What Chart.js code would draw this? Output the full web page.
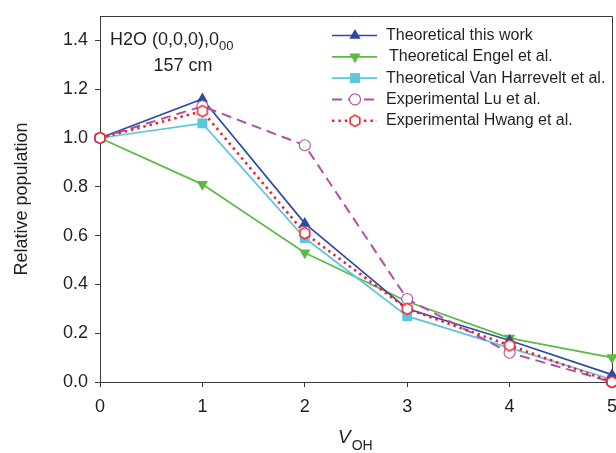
<!DOCTYPE html>
<html>
<head>
<meta charset="utf-8">
<script src="https://cdn.jsdelivr.net/npm/chart.js@4.4.0/dist/chart.umd.min.js"></script>
<style>
  html, body { margin: 0; padding: 0; background: #ffffff; }
  canvas { display: block; }
</style>
</head>
<body>
<canvas id="chart" width="616" height="453"></canvas>
<script>
// Vibrational quantum number of the OH stretch
const vibLevels = [0, 1, 2, 3, 4, 5];

// Relative populations for each source
const theoreticalThisWork   = [1.00, 1.16, 0.65, 0.30, 0.17, 0.03];
const theoreticalEngel      = [1.00, 0.81, 0.53, 0.33, 0.18, 0.10];
const theoreticalVanHarrev  = [1.00, 1.06, 0.59, 0.27, 0.14, 0.01];
const experimentalLu        = [1.00, 1.13, 0.97, 0.34, 0.12, 0.00];
const experimentalHwang     = [1.00, 1.11, 0.61, 0.30, 0.15, 0.00];

const seriesLabels = [
  'Theoretical this work',
  'Theoretical Engel et al.',
  'Theoretical Van Harrevelt et al.',
  'Experimental Lu et al.',
  'Experimental Hwang et al.'
];

// Axis tick values
const xTickValues = [0, 1, 2, 3, 4, 5];
const yTickValues = [0.0, 0.2, 0.4, 0.6, 0.8, 1.0, 1.2, 1.4];

const FONT = '"Liberation Sans", Arial, Helvetica, sans-serif';
const TEXT = '#231f20';
const AXIS = '#3a3a3a';

// Open hexagon marker for the Hwang et al. series
function makeHexagon(color) {
  const s = 16;
  const c = document.createElement('canvas');
  c.width = s; c.height = s;
  const g = c.getContext('2d');
  const r = 5.6;
  g.beginPath();
  for (let k = 0; k < 6; k++) {
    const a = Math.PI / 2 + k * Math.PI / 3;
    const px = s / 2 + r * Math.cos(a);
    const py = s / 2 - r * Math.sin(a);
    if (k === 0) g.moveTo(px, py); else g.lineTo(px, py);
  }
  g.closePath();
  g.fillStyle = '#ffffff';
  g.fill();
  g.lineWidth = 1.5;
  g.strokeStyle = color;
  g.stroke();
  return c;
}

const toPoints = arr => vibLevels.map((v, i) => ({ x: v, y: arr[i] }));

const datasets = [
  {
    label: seriesLabels[0],
    data: toPoints(theoreticalThisWork),
    borderColor: '#2d4aa3',
    backgroundColor: '#2d4aa3',
    borderWidth: 1.7,
    pointStyle: 'triangle',
    pointRadius: 6.5,
    pointBorderWidth: 0,
    order: 2
  },
  {
    label: seriesLabels[1],
    data: toPoints(theoreticalEngel),
    borderColor: '#5cb944',
    backgroundColor: '#5cb944',
    borderWidth: 1.7,
    pointStyle: 'triangle',
    pointRotation: 180,
    pointRadius: 6.5,
    pointBorderWidth: 0,
    order: 4
  },
  {
    label: seriesLabels[2],
    data: toPoints(theoreticalVanHarrev),
    borderColor: '#5bc6de',
    backgroundColor: '#5bc6de',
    borderWidth: 1.7,
    pointStyle: 'rect',
    pointRadius: 7,
    pointBorderWidth: 0,
    order: 3
  },
  {
    label: seriesLabels[3],
    data: toPoints(experimentalLu),
    borderColor: '#b24fa5',
    backgroundColor: '#ffffff',
    pointBorderColor: '#b24fa5',
    pointBackgroundColor: '#ffffff',
    borderWidth: 2,
    borderDash: [10, 6],
    pointStyle: 'circle',
    pointRadius: 5.5,
    pointBorderWidth: 1.1,
    order: 1
  },
  {
    label: seriesLabels[4],
    data: toPoints(experimentalHwang),
    borderColor: '#ee2027',
    backgroundColor: '#ffffff',
    borderWidth: 2.6,
    borderDash: [2.4, 4],
    pointStyle: makeHexagon('#ee2027'),
    pointRadius: 6,
    order: 0
  }
];

// Top and right edges of the plot frame
const framePlugin = {
  id: 'frame',
  beforeDatasetsDraw(chart) {
    const { ctx, chartArea: a } = chart;
    ctx.save();
    ctx.strokeStyle = AXIS;
    ctx.lineWidth = 1;
    ctx.beginPath();
    ctx.moveTo(a.left, a.top + 0.5);
    ctx.lineTo(a.right + 0.5, a.top + 0.5);
    ctx.lineTo(a.right + 0.5, a.bottom);
    ctx.stroke();
    ctx.restore();
  }
};

// Line-and-marker legend in the upper right
const legendPlugin = {
  id: 'lineLegend',
  afterDraw(chart) {
    const { ctx } = chart;
    const x0 = 332, x1 = 377, xm = 355, xt = 386;
    const y0 = 35.5, dy = 21.3;
    ctx.save();
    chart.data.datasets.forEach((ds, i) => {
      const y = y0 + i * dy;
      ctx.save();
      ctx.strokeStyle = ds.borderColor;
      ctx.lineWidth = ds.borderWidth;
      ctx.setLineDash(ds.borderDash || []);
      ctx.beginPath();
      ctx.moveTo(x0, y);
      ctx.lineTo(x1, y);
      ctx.stroke();
      ctx.setLineDash([]);
      ctx.fillStyle = ds.pointBackgroundColor || ds.backgroundColor;
      ctx.strokeStyle = ds.pointBorderColor || ds.borderColor;
      ctx.lineWidth = ds.pointBorderWidth || 0;
      Chart.helpers.drawPoint(ctx, {
        pointStyle: ds.pointStyle,
        rotation: ds.pointRotation || 0,
        radius: ds.pointRadius,
        borderWidth: ds.pointBorderWidth || 0
      }, xm, y);
      ctx.restore();
      ctx.fillStyle = TEXT;
      ctx.font = '16px ' + FONT;
      ctx.textBaseline = 'middle';
      ctx.textAlign = 'left';
      ctx.fillText(ds.label, xt + (i === 1 ? 3 : 0), y);
    });
    ctx.restore();
  }
};

// x tick labels, state annotation and the x-axis title with subscripts
const textPlugin = {
  id: 'texts',
  afterDraw(chart) {
    const { ctx, chartArea } = chart;
    const xs = chart.scales.x;
    ctx.save();
    ctx.fillStyle = TEXT;

    // x tick labels, placed by the x scale
    ctx.font = '18px ' + FONT;
    ctx.textAlign = 'center';
    ctx.textBaseline = 'middle';
    xTickValues.forEach(v => {
      ctx.fillText(String(v), xs.getPixelForValue(v), chartArea.bottom + 25);
    });

    ctx.textBaseline = 'alphabetic';
    ctx.textAlign = 'left';
    ctx.font = '18px ' + FONT;
    const main = 'H2O (0,0,0),0';
    ctx.fillText(main, 110, 45);
    const w = ctx.measureText(main).width;
    ctx.font = '13px ' + FONT;
    ctx.fillText('00', 110 + w, 50);

    ctx.font = '18px ' + FONT;
    ctx.textAlign = 'center';
    ctx.fillText('157 cm', 183, 71);

    // V_OH below the x axis
    ctx.textAlign = 'left';
    ctx.font = 'italic 19px ' + FONT;
    const vW = ctx.measureText('V').width;
    const tx = (chartArea.left + chartArea.right) / 2 - 18;
    ctx.fillText('V', tx, 443);
    ctx.font = '14px ' + FONT;
    ctx.fillText('OH', tx + vW + 1, 450);
    ctx.restore();
  }
};

new Chart(document.getElementById('chart'), {
  type: 'line',
  data: { datasets },
  options: {
    responsive: false,
    animation: false,
    devicePixelRatio: 1,
    layout: {
      autoPadding: false,
      padding: { top: 16, right: 4, left: 0, bottom: 0 }
    },
    plugins: {
      legend: { display: false },
      tooltip: { enabled: false }
    },
    elements: {
      line: { tension: 0, fill: false },
    },
    datasets: { line: { clip: false } },
    scales: {
      x: {
        type: 'linear',
        min: 0,
        max: 5,
        afterBuildTicks: axis => { axis.ticks = xTickValues.map(v => ({ value: v })); },
        afterFit: axis => { axis.height = 71; },
        ticks: { display: false },
        grid: {
          drawOnChartArea: false,
          drawTicks: true,
          tickLength: 5,
          tickColor: AXIS
        },
        border: { color: AXIS, width: 1 }
      },
      y: {
        type: 'linear',
        min: 0,
        max: 1.5,
        afterBuildTicks: axis => { axis.ticks = yTickValues.map(v => ({ value: v })); },
        afterFit: axis => {
          axis.width = 100;
          axis.paddingTop = 0;
          axis.paddingBottom = 0;
        },
        ticks: {
          color: TEXT,
          font: { family: FONT, size: 18 },
          padding: 7,
          callback: v => Number(v).toFixed(1)
        },
        grid: {
          drawOnChartArea: false,
          drawTicks: true,
          tickLength: 5,
          tickColor: AXIS
        },
        border: { color: AXIS, width: 1 },
        title: {
          display: true,
          text: 'Relative population',
          color: TEXT,
          font: { family: FONT, size: 18 },
          padding: { top: 11, bottom: 0 }
        }
      }
    }
  },
  plugins: [framePlugin, legendPlugin, textPlugin]
});
</script>
</body>
</html>
